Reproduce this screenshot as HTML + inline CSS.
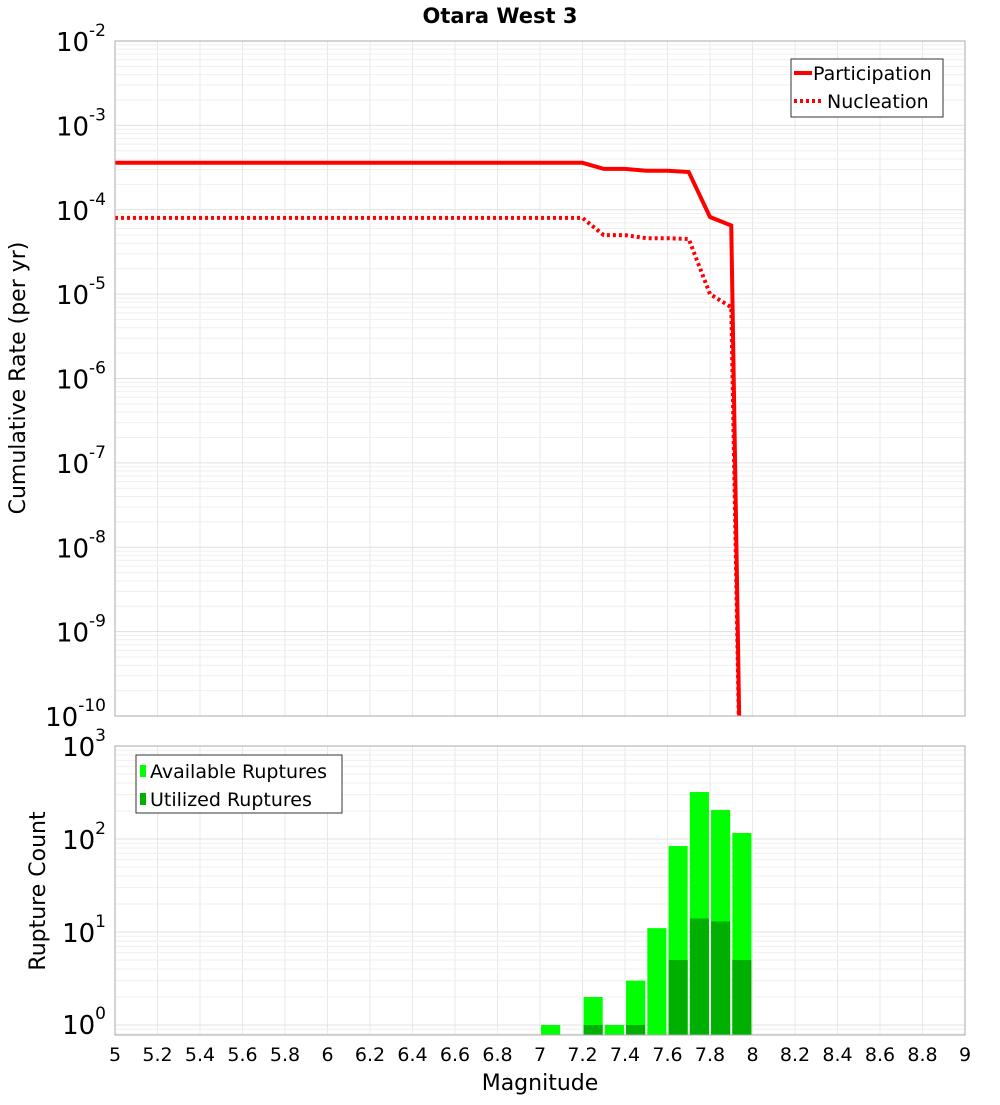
<!DOCTYPE html>
<html><head><meta charset="utf-8"><style>
body{margin:0;background:#fff;font-family:"Liberation Sans","DejaVu Sans",sans-serif}
svg text{font-family:"DejaVu Sans","Liberation Sans",sans-serif}
</style></head><body>
<svg id="c" width="1000" height="1100" xmlns="http://www.w3.org/2000/svg">
<text x="500" y="23" text-anchor="middle" font-size="21" font-weight="bold">Otara West 3</text>
<text transform="translate(25,378) rotate(-90)" text-anchor="middle" font-size="22">Cumulative Rate (per yr)</text>
<text transform="translate(45,891) rotate(-90)" text-anchor="middle" font-size="22">Rupture Count</text>
<text x="540" y="1090" text-anchor="middle" font-size="22">Magnitude</text>
<g id="grid"></g><g id="marks"></g><g id="axes"></g>
</svg>
<script>
const magX = [5,5.1,5.2,5.3,5.4,5.5,5.6,5.7,5.8,5.9,6,6.1,6.2,6.3,6.4,6.5,6.6,6.7,6.8,6.9,7,7.1,7.2,7.3,7.4,7.5,7.6,7.7,7.8,7.9,7.95];
const participation = [3.6e-4,3.6e-4,3.6e-4,3.6e-4,3.6e-4,3.6e-4,3.6e-4,3.6e-4,3.6e-4,3.6e-4,3.6e-4,3.6e-4,3.6e-4,3.6e-4,3.6e-4,3.6e-4,3.6e-4,3.6e-4,3.6e-4,3.6e-4,3.6e-4,3.6e-4,3.6e-4,3.05e-4,3.05e-4,2.9e-4,2.9e-4,2.8e-4,8.2e-5,6.5e-5,1e-12];
const nucleation = [8e-5,8e-5,8e-5,8e-5,8e-5,8e-5,8e-5,8e-5,8e-5,8e-5,8e-5,8e-5,8e-5,8e-5,8e-5,8e-5,8e-5,8e-5,8e-5,8e-5,8e-5,8e-5,8e-5,5e-5,5e-5,4.6e-5,4.6e-5,4.5e-5,1e-5,7e-6,1e-12];
const binCenters = [7.05,7.25,7.35,7.45,7.55,7.65,7.75,7.85,7.95];
const available = [1,2,1,3,11,84,320,205,116];
const utilized = [0,1,0,1,0,5,14,13,5];
const xTicks = [5,5.2,5.4,5.6,5.8,6,6.2,6.4,6.6,6.8,7,7.2,7.4,7.6,7.8,8,8.2,8.4,8.6,8.8,9];
const topExp = [-2,-3,-4,-5,-6,-7,-8,-9,-10];
const botExp = [3,2,1,0];

const NS="http://www.w3.org/2000/svg";
const L=115,R=965,T1=41,B1=716,T2=746,B2=1035;
const xs=v=>L+(v-5)*(R-L)/4;
const y1=v=>T1+(-2-Math.log10(v))*(B1-T1)/8;
const y2=v=>T2+(3-Math.log10(v))*93;
function mk(p,tag,a){const e=document.createElementNS(NS,tag);for(const k in a)e.setAttribute(k,a[k]);p.appendChild(e);return e;}
const G=document.getElementById('grid'),M=document.getElementById('marks'),A=document.getElementById('axes');

xTicks.forEach(t=>{
  let l=mk(G,'line',{x1:xs(t),x2:xs(t),y1:T1,y2:B1,stroke:'#e8e8e8'});
  
  
  let l2=mk(G,'line',{x1:xs(t),x2:xs(t),y1:T2,y2:B2,stroke:'#e8e8e8'});
  
  
});
for(let e=-10;e<-2;e++)for(let m=1;m<10;m++){
  const y=y1(m*Math.pow(10,e));
  let l=mk(G,'line',{x1:L,x2:R,y1:y,y2:y,stroke:m==1?'#e0e0e0':'#efefef'});
  
  
}
for(let e=-1;e<3;e++)for(let m=1;m<10;m++){
  const y=y2(m*Math.pow(10,e));
  if(y>B2||y<T2)continue;
  let l=mk(G,'line',{x1:L,x2:R,y1:y,y2:y,stroke:m==1?'#e0e0e0':'#efefef'});
  
  
}
const clip=mk(M,'clipPath',{id:'cp1'});mk(clip,'rect',{x:L,y:T1,width:R-L,height:B1-T1});
function line(vals,dash,name){
  const pts=magX.map((x,i)=>xs(x)+','+y1(vals[i])).join(' ');
  const p=mk(M,'polyline',{points:pts,fill:'none',stroke:'#ff0000','stroke-width':4,'clip-path':'url(#cp1)'});
  if(dash)p.setAttribute('stroke-dasharray','3,3');
  
  
}
line(participation,false,'participation-line');
line(nucleation,true,'nucleation-line');
const bw=(R-L)/4*0.09;
binCenters.forEach((c,i)=>{
  const x=xs(c)-bw/2;
  let b=mk(M,'rect',{x:x,y:y2(available[i]),width:bw,height:B2-y2(available[i]),fill:'#00ff00'});
  
  
  if(utilized[i]>0){
    let u=mk(M,'rect',{x:x,y:y2(utilized[i]),width:bw,height:B2-y2(utilized[i]),fill:'#00b000'});
    
    
  }
});
mk(A,'rect',{x:L,y:T1,width:R-L,height:B1-T1,fill:'none',stroke:'#aaa'});
mk(A,'rect',{x:L,y:T2,width:R-L,height:B2-T2,fill:'none',stroke:'#aaa'});
xTicks.forEach(t=>{
  let tx=mk(A,'text',{x:xs(t),y:1061,'text-anchor':'middle','font-size':19});
  tx.textContent=String(t);
  
  
});
function ylab(e,y){
  let tx=mk(A,'text',{x:106,y:y+10,'text-anchor':'end','font-size':26});
  
  
  tx.textContent='10';
  let s=mk(tx,'tspan',{dy:-15,'font-size':17});s.textContent=String(e);
}
topExp.forEach(e=>ylab(e,y1(Math.pow(10,e))));
botExp.forEach(e=>ylab(e,e==0?y2(1)-1:y2(Math.pow(10,e))));
const lg1=mk(A,'g',{});


mk(lg1,'rect',{x:791,y:59,width:152,height:58,fill:'#fff',stroke:'#333'});
mk(lg1,'line',{x1:794,x2:812,y1:73,y2:73,stroke:'#f00','stroke-width':4});
mk(lg1,'line',{x1:794,x2:822,y1:101,y2:101,stroke:'#f00','stroke-width':4,'stroke-dasharray':'3,3'});
let t1=mk(lg1,'text',{x:813,y:80,'font-size':19});t1.textContent='Participation';
let t2=mk(lg1,'text',{x:827,y:108,'font-size':19});t2.textContent='Nucleation';
const lg2=mk(A,'g',{});


mk(lg2,'rect',{x:136,y:755,width:206,height:58,fill:'#fff',stroke:'#333'});
mk(lg2,'rect',{x:140,y:765,width:6,height:12,fill:'#00ff00'});
mk(lg2,'rect',{x:140,y:793,width:6,height:12,fill:'#00b000'});
let t3=mk(lg2,'text',{x:150,y:778,'font-size':19});t3.textContent='Available Ruptures';
let t4=mk(lg2,'text',{x:150,y:806,'font-size':19});t4.textContent='Utilized Ruptures';
</script>
</body></html>
